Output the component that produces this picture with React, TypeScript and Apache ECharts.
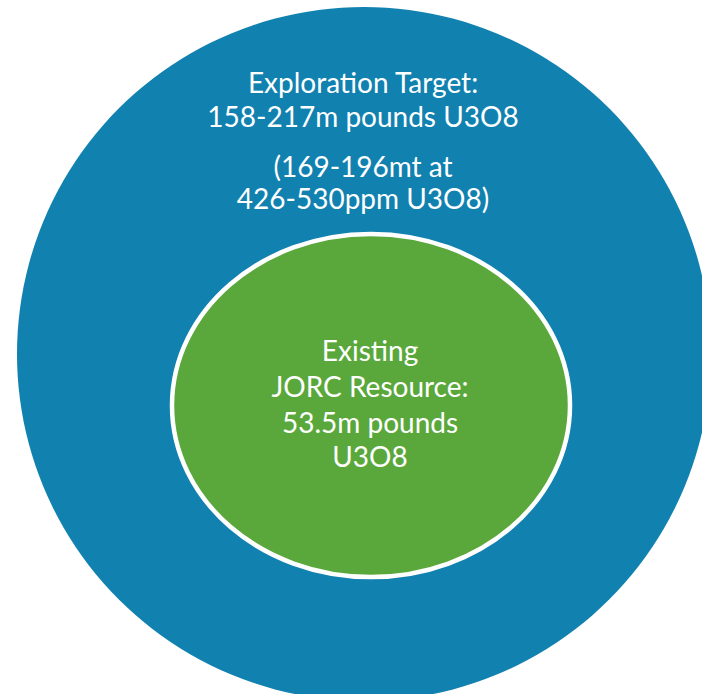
import React, { useEffect, useRef } from "react";
import * as echarts from "echarts";

// Text content of the diagram
const outerTitleLines: string[] = ["Exploration Target:", "158-217m pounds U3O8"];
const outerNoteLines: string[] = ["(169-196mt at", "426-530ppm U3O8)"];
const innerLines: string[] = ["Existing", "JORC Resource:", "53.5m pounds", "U3O8"];

const BLUE = "#1181B0";
const GREEN = "#5AA83C";
const FONT = "Lato, 'Open Sans', sans-serif";
const FONT_SIZE = 28;

export default function App() {
  const ref = useRef<HTMLDivElement>(null);

  useEffect(() => {
    if (!ref.current) return;
    const chart = echarts.init(ref.current, undefined, { renderer: "svg" });

    const outerCx = 364;
    const outerCy = 354;
    const outerR = 347;
    const innerCx = 371;
    const innerCy = 405.5;

    const textEl = (text: string, x: number, y: number) => ({
      type: "text",
      x,
      y,
      style: {
        text,
        fill: "#ffffff",
        font: `${FONT_SIZE}px ${FONT}`,
        align: "center",
        verticalAlign: "middle",
      },
      silent: true,
    });

    const outerYs = [82, 116];
    const noteYs = [166, 197.5];
    const innerYs = [350, 386, 421.5, 456];

    const elements: any[] = [
      {
        type: "circle",
        shape: { cx: outerCx, cy: outerCy, r: outerR },
        style: { fill: BLUE },
        silent: true,
      },
      {
        type: "ellipse",
        shape: { cx: innerCx, cy: innerCy, rx: 199, ry: 171.5 },
        style: { fill: GREEN, stroke: "#ffffff", lineWidth: 4.5 },
        silent: true,
      },
      ...outerTitleLines.map((t, i) => textEl(t, 363, outerYs[i])),
      ...outerNoteLines.map((t, i) => textEl(t, 363, noteYs[i])),
      ...innerLines.map((t, i) => textEl(t, 370, innerYs[i])),
    ];

    chart.setOption({
      animation: false,
      backgroundColor: "#ffffff",
      graphic: { elements },
    });

    return () => {
      chart.dispose();
    };
  }, []);

  return (
    <div
      ref={ref}
      style={{ position: "fixed", left: 0, top: 0, width: 702, height: 694 }}
    />
  );
}
